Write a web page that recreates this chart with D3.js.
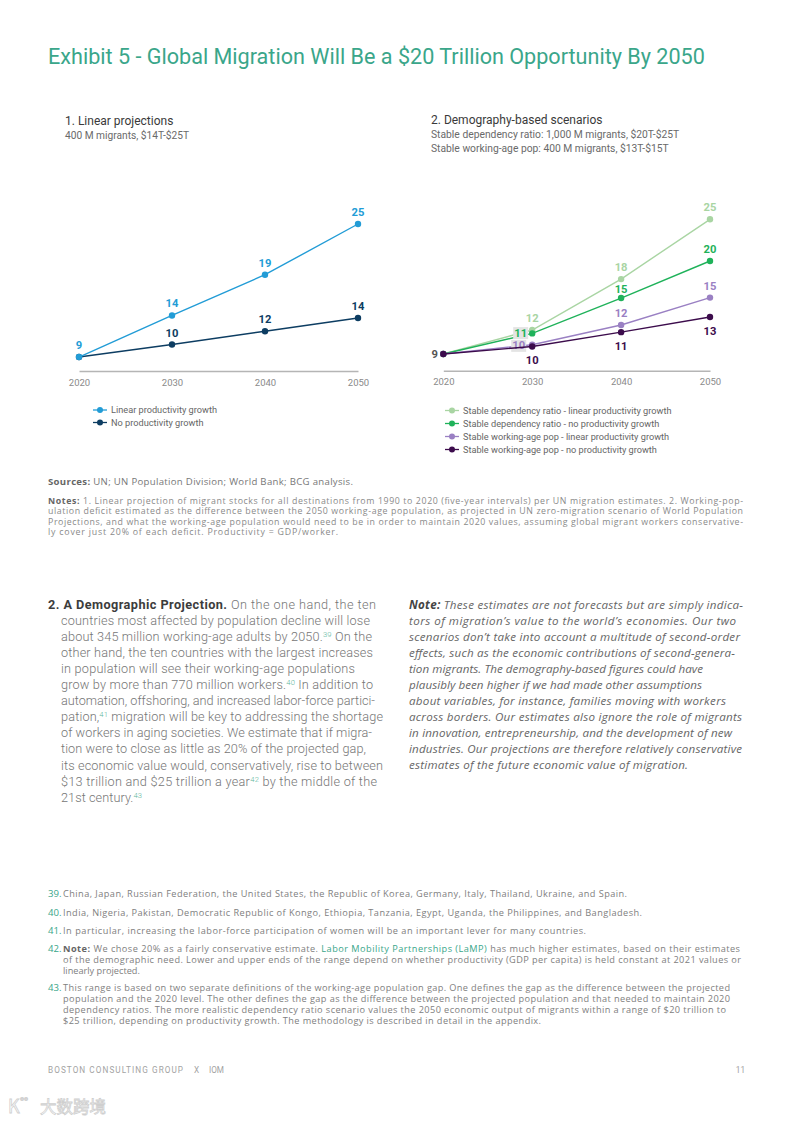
<!DOCTYPE html>
<html>
<head>
<meta charset="utf-8">
<script src="https://cdn.jsdelivr.net/npm/d3@7"></script>
<style>
  body { margin: 0; background: #fff; }
  svg { display: block; font-family: Roboto, "Noto Sans", sans-serif; }
</style>
</head>
<body>
<script>
// Chart data

let years = [2020, 2030, 2040, 2050]

// 1. Linear projections ($T)
let linearGrowth = [9, 14.0, 18.9, 25]
let noGrowth = [9, 10.5, 12.1, 13.7]
let linearGrowthLabels = ['9', '14', '19', '25']
let noGrowthLabels = ['', '10', '12', '14']

// 2. Demography-based scenarios ($T)
let depLinear = [9, 11.85, 17.9, 25]
let depNone = [9, 11.45, 15.65, 20.05]
let wapLinear = [9, 10.1, 12.45, 15.7]
let wapNone = [9, 9.9, 11.6, 13.4]
let depLinearLabels = ['', '12', '18', '25']
let depNoneLabels = ['', '11', '15', '20']
let wapLinearLabels = ['', '10', '12', '15']
let wapNoneLabels = ['9', '10', '11', '13']

let legend1 = ['Linear productivity growth', 'No productivity growth']
let legend2 = [
    'Stable dependency ratio - linear productivity growth',
    'Stable dependency ratio - no productivity growth',
    'Stable working-age pop - linear productivity growth',
    'Stable working-age pop - no productivity growth'
]

// Page sizing

let width = 793
let height = 1121
let teal = '#3aa68a'
let smallFont = '"Open Sans", Roboto, sans-serif'

let svg = d3.select('body')
    .append('svg')
    .attr('width', width)
    .attr('height', height)

// small rich-text helper: **bold**, ^sup^, [[link]]
function richText(g, x, y, str, opts) {
    let t = g.append('text')
        .attr('x', x)
        .attr('y', y)
        .attr('font-size', opts.size)
        .attr('fill', opts.color)
        .attr('font-weight', opts.weight || 400)
        .attr('font-style', opts.italic ? 'italic' : 'normal')
        .attr('font-family', opts.family || null)
    if (opts.fit) t.attr('textLength', opts.fit - x).attr('lengthAdjust', 'spacing')
    str.split(/(\*\*.*?\*\*|\^\d+\^|\[\[.*?\]\])/).filter(s => s.length).forEach(s => {
        let ts = t.append('tspan')
        if (s.startsWith('**')) {
            ts.text(s.slice(2, -2)).attr('font-weight', 700).attr('fill', opts.boldColor || '#444')
        } else if (s.startsWith('^')) {
            ts.text(s.slice(1, -1)).attr('font-size', opts.size * 0.6).attr('baseline-shift', '45%').attr('fill', '#5bb59c')
        } else if (s.startsWith('[[')) {
            ts.text(s.slice(2, -2)).attr('fill', teal)
        } else {
            ts.text(s)
        }
    })
    return t
}

// Title
svg.append('text')
    .attr('x', 48)
    .attr('y', 64)
    .attr('font-size', 21.6)
    .attr('fill', teal)
    .text('Exhibit 5 - Global Migration Will Be a $20 Trillion Opportunity By 2050')

// Panel headings
svg.append('text').attr('x', 65).attr('y', 125).attr('font-size', 12).attr('fill', '#3a3a3a')
    .text('1. Linear projections')
svg.append('text').attr('x', 65).attr('y', 139).attr('font-size', 10.2).attr('fill', '#6a6a6a')
    .text('400 M migrants, $14T-$25T')

svg.append('text').attr('x', 431).attr('y', 124).attr('font-size', 12).attr('fill', '#3a3a3a')
    .text('2. Demography-based scenarios')
svg.append('text').attr('x', 431).attr('y', 138).attr('font-size', 10.3).attr('fill', '#6a6a6a')
    .text('Stable dependency ratio: 1,000 M migrants, $20T-$25T')
svg.append('text').attr('x', 431).attr('y', 151.5).attr('font-size', 10.3).attr('fill', '#6a6a6a')
    .text('Stable working-age pop: 400 M migrants, $13T-$15T')

// Scales

let x1 = d3.scaleLinear().domain([2020, 2050]).range([79, 358])
let y1 = d3.scaleLinear().domain([7.32, 25]).range([371, 224])

let x2 = d3.scaleLinear().domain([2020, 2050]).range([443.3, 710])
let y2 = d3.scaleLinear().domain([7.02, 25]).range([370.7, 219.3])

function drawAxis(xScale, yPos) {
    let g = svg.append('g')
        .attr('transform', `translate(0, ${yPos})`)
        .call(d3.axisBottom(xScale).tickValues(years).tickFormat(d3.format('d')).tickSize(0).tickPadding(8))
    g.select('.domain').attr('stroke', '#b5b5b5').attr('stroke-width', 1.6)
    g.selectAll('text').attr('font-size', 9.5).attr('fill', '#8a8a8a').attr('font-family', 'Roboto')
}
drawAxis(x1, 371)
drawAxis(x2, 370.7)

// series: values, labels, color, label placement per point
function drawSeries(xScale, yScale, values, labels, color, place, labelColor) {
    let line = d3.line()
        .x((d, i) => xScale(years[i]))
        .y(d => yScale(d))
    svg.append('path')
        .datum(values)
        .attr('d', line)
        .attr('fill', 'none')
        .attr('stroke', color)
        .attr('stroke-width', 1.4)

    svg.append('g').selectAll('circle')
        .data(values)
        .join('circle')
        .attr('cx', (d, i) => xScale(years[i]))
        .attr('cy', d => yScale(d))
        .attr('r', 3.2)
        .attr('fill', color)

    let g = svg.append('g')
    values.forEach((d, i) => {
        if (!labels[i]) return
        let px = xScale(years[i])
        let py = yScale(d)
        let p = place[i]
        let tx = px, ty = py - 8, anchor = 'middle'
        if (p == 'below') ty = py + 18
        if (p == 'aboveLo') ty = py - 5
        if (p == 'left') { tx = px - 5.5; ty = py + 4; anchor = 'end' }
        if (p == 'boxUp') { tx = px - 5; ty = py + 3.2; anchor = 'end' }
        if (p == 'boxDown') { tx = px - 7; ty = py + 4.6; anchor = 'end' }
        if (p == 'boxUp' || p == 'boxDown') {
            g.append('rect')
                .attr('x', tx - 14).attr('y', ty - 9.5)
                .attr('width', 15).attr('height', 12)
                .attr('fill', '#e4e4e4')
        }
        g.append('text')
            .attr('x', tx)
            .attr('y', ty)
            .attr('text-anchor', anchor)
            .attr('font-size', 11.2)
            .attr('font-weight', 700)
            .attr('fill', i == 0 && labelColor ? labelColor : color)
            .text(labels[i])
    })
}

let cLinear = '#229cd6'
let cNone = '#0d3d62'
let cDepLin = '#a9d5a3'
let cDepNone = '#1fb25a'
let cWapLin = '#9a80c3'
let cWapNone = '#3c0c4c'

drawSeries(x1, y1, noGrowth, noGrowthLabels, cNone, ['', 'above', 'above', 'above'])
drawSeries(x1, y1, linearGrowth, linearGrowthLabels, cLinear, ['above', 'above', 'above', 'above'])

drawSeries(x2, y2, depLinear, depLinearLabels, cDepLin, ['', 'above', 'above', 'above'])
drawSeries(x2, y2, depNone, depNoneLabels, cDepNone, ['', 'boxUp', 'aboveLo', 'above'])
drawSeries(x2, y2, wapLinear, wapLinearLabels, cWapLin, ['', 'boxDown', 'above', 'above'])
drawSeries(x2, y2, wapNone, wapNoneLabels, cWapNone, ['left', 'below', 'below', 'below'], '#555')

// Legends
function drawLegend(items, colors, x, y0, step) {
    let g = svg.append('g')
    items.forEach((d, i) => {
        let y = y0 + i * step
        g.append('line').attr('x1', x).attr('x2', x + 14).attr('y1', y).attr('y2', y)
            .attr('stroke', colors[i]).attr('stroke-width', 1.3)
        g.append('circle').attr('cx', x + 7).attr('cy', y).attr('r', 3).attr('fill', colors[i])
        g.append('text').attr('x', x + 18).attr('y', y + 3.2).attr('font-size', 9.2).attr('fill', '#666')
            .text(d)
    })
}
drawLegend(legend1, [cLinear, cNone], 93, 410, 12.5)
drawLegend(legend2, [cDepLin, cDepNone, cWapLin, cWapNone], 445, 410.5, 13)

// Sources and notes
let small = svg.append('g').attr('font-family', smallFont)
richText(small, 48, 484.5, '**Sources:** UN; UN Population Division; World Bank; BCG analysis.',
    { size: 9.6, color: '#777', boldColor: '#666', fit: 353 })
let notes = [
    '**Notes:** 1. Linear projection of migrant stocks for all destinations from 1990 to 2020 (five-year intervals) per UN migration estimates. 2. Working-pop-',
    'ulation deficit estimated as the difference between the 2050 working-age population, as projected in UN zero-migration scenario of World Population',
    'Projections, and what the working-age population would need to be in order to maintain 2020 values, assuming global migrant workers conservative-',
    'ly cover just 20% of each deficit. Productivity = GDP/worker.'
]
let notesEnd = [743, 743, 743, 338]
notes.forEach((s, i) => {
    richText(small, 48, 504 + i * 10.4, s,
        { size: 8.8, color: '#8a8a8a', boldColor: '#666', fit: notesEnd[i] })
})

// Body text, left column
let bodyLeft = [
    '**2. A Demographic Projection.** On the one hand, the ten',
    'countries most affected by population decline will lose',
    'about 345 million working-age adults by 2050.^39^ On the',
    'other hand, the ten countries with the largest increases',
    'in population will see their working-age populations',
    'grow by more than 770 million workers.^40^ In addition to',
    'automation, offshoring, and increased labor-force partici-',
    'pation,^41^ migration will be key to addressing the shortage',
    'of workers in aging societies. We estimate that if migra-',
    'tion were to close as little as 20% of the projected gap,',
    'its economic value would, conservatively, rise to between',
    '$13 trillion and $25 trillion a year^42^ by the middle of the',
    '21st century.^43^'
]
let bodyLeftEnd = [376, 370, 372, 373, 355, 373, 375, 383, 372, 366, 383, 377, 142]
let body = svg.append('g')
bodyLeft.forEach((s, i) => {
    richText(body, i == 0 ? 48 : 61, 608.5 + i * 16.1, s,
        { size: 12.7, color: '#767676', weight: 300, boldColor: '#3c3c3c', fit: bodyLeftEnd[i] })
})

// Body text, right column (italic note)
let bodyRight = [
    '**Note:** These estimates are not forecasts but are simply indica-',
    'tors of migration’s value to the world’s economies. Our two',
    'scenarios don’t take into account a multitude of second-order',
    'effects, such as the economic contributions of second-genera-',
    'tion migrants. The demography-based figures could have',
    'plausibly been higher if we had made other assumptions',
    'about variables, for instance, families moving with workers',
    'across borders. Our estimates also ignore the role of migrants',
    'in innovation, entrepreneurship, and the development of new',
    'industries. Our projections are therefore relatively conservative',
    'estimates of the future economic value of migration.'
]
let bodyRightEnd = [743, 736, 740, 735, 703, 702, 726, 742, 732, 742, 688]
bodyRight.forEach((s, i) => {
    richText(body, 409, 608.5 + i * 16, s,
        { size: 11.6, color: '#666', italic: true, boldColor: '#444', family: '"Open Sans"', fit: bodyRightEnd[i] })
})

// Footnotes
let footnotes = [
    ['39.', ['China, Japan, Russian Federation, the United States, the Republic of Korea, Germany, Italy, Thailand, Ukraine, and Spain.'], 893],
    ['40.', ['India, Nigeria, Pakistan, Democratic Republic of Kongo, Ethiopia, Tanzania, Egypt, Uganda, the Philippines, and Bangladesh.'], 912],
    ['41.', ['In particular, increasing the labor-force participation of women will be an important lever for many countries.'], 930],
    ['42.', ['**Note:** We chose 20% as a fairly conservative estimate. [[Labor Mobility Partnerships (LaMP)]] has much higher estimates, based on their estimates',
        'of the demographic need. Lower and upper ends of the range depend on whether productivity (GDP per capita) is held constant at 2021 values or',
        'linearly projected.'], 948],
    ['43.', ['This range is based on two separate definitions of the working-age population gap. One defines the gap as the difference between the projected',
        'population and the 2020 level. The other defines the gap as the difference between the projected population and that needed to maintain 2020',
        'dependency ratios. The more realistic dependency ratio scenario values the 2050 economic output of migrants within a range of $20 trillion to',
        '$25 trillion, depending on productivity growth. The methodology is described in detail in the appendix.'], 987]
]
let fits = {
    '39.': [627], '40.': [642], '41.': [586],
    '42.': [740, 741, null], '43.': [730, 730, 726, 541]
}
let foot = svg.append('g').attr('font-family', smallFont)
footnotes.forEach(f => {
    foot.append('text').attr('x', 48).attr('y', f[2] + 3.5).attr('font-size', 9.6).attr('fill', teal).text(f[0])
    f[1].forEach((s, i) => {
        richText(foot, 63, f[2] + 3.5 + i * 11, s, { size: 9.2, color: '#808080', boldColor: '#666', fit: fits[f[0]][i] })
    })
})

// Footer
let footer = svg.append('g').attr('font-size', 8.2).attr('fill', '#a3a3a3')
footer.append('text').attr('x', 48).attr('y', 1073).attr('textLength', 135).attr('lengthAdjust', 'spacing')
    .text('BOSTON CONSULTING GROUP')
footer.append('text').attr('x', 194).attr('y', 1073).text('X')
footer.append('text').attr('x', 209).attr('y', 1073).text('IOM')
footer.append('text').attr('x', 745).attr('y', 1073).attr('text-anchor', 'end').text('11')

// watermark
let wm = svg.append('g').attr('fill', '#fff').attr('stroke', '#cfcfcf').attr('stroke-width', 0.8)
    .attr('font-family', 'Noto Sans CJK SC')
wm.append('text').attr('x', 8).attr('y', 1113).attr('font-size', 18).text('K')
wm.append('text').attr('x', 20).attr('y', 1106).attr('font-size', 11).text('°°')
wm.append('text').attr('x', 40).attr('y', 1113).attr('font-size', 16.5).text('大数跨境')
</script>
</body>
</html>
